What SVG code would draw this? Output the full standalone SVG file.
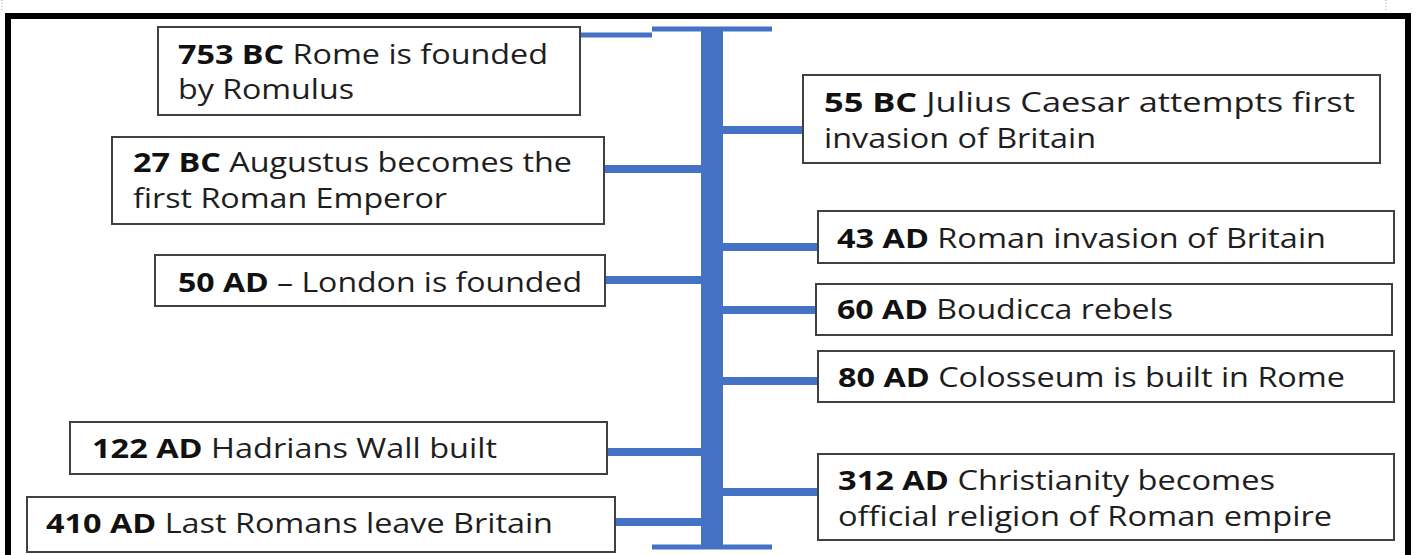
<svg xmlns="http://www.w3.org/2000/svg" width="1418" height="555" viewBox="0 0 1418 555">
<style>
.box{fill:#fff;stroke:#404040;stroke-width:2}
.t{font-family:"Open Sans","Liberation Sans",sans-serif;font-size:27px;fill:#1e1e1e}
.b{font-weight:bold;fill:#111}
.c{stroke:#4472C4;fill:none}
.guide{stroke:#7fb0e8;stroke-width:1;stroke-dasharray:1 2}
</style>
<rect x="0" y="0" width="1418" height="555" fill="#fff"/>
<line class="guide" x1="2" y1="0" x2="2" y2="10"/>
<line class="guide" x1="1386" y1="0" x2="1386" y2="12"/>
<rect x="8" y="16" width="1400" height="580" fill="none" stroke="#000" stroke-width="6"/>
<g id="connectors">
<line class="c" x1="712" y1="30" x2="712" y2="548" stroke-width="22"/>
<line class="c" x1="652" y1="29" x2="772" y2="29" stroke-width="5"/>
<line class="c" x1="652" y1="547" x2="772" y2="547" stroke-width="5"/>
<line class="c" x1="580" y1="35" x2="652" y2="35" stroke-width="5"/>
<line class="c" x1="723" y1="130" x2="803" y2="130" stroke-width="8"/>
<line class="c" x1="604" y1="169" x2="701" y2="169" stroke-width="8"/>
<line class="c" x1="723" y1="247" x2="818" y2="247" stroke-width="8"/>
<line class="c" x1="605" y1="280" x2="701" y2="280" stroke-width="8"/>
<line class="c" x1="723" y1="310" x2="816" y2="310" stroke-width="8"/>
<line class="c" x1="723" y1="381" x2="818" y2="381" stroke-width="8"/>
<line class="c" x1="607" y1="452" x2="701" y2="452" stroke-width="8"/>
<line class="c" x1="723" y1="492" x2="818" y2="492" stroke-width="8"/>
<line class="c" x1="615" y1="522" x2="701" y2="522" stroke-width="8"/>
</g>
<g id="n753bc">
<rect class="box" x="158" y="27" width="422" height="88"/>
<text class="t" x="178" y="64" textLength="370" lengthAdjust="spacingAndGlyphs"><tspan class="b">753 BC</tspan> Rome is founded</text>
<text class="t" x="178" y="99" textLength="176" lengthAdjust="spacingAndGlyphs">by Romulus</text>
</g>
<g id="n55bc">
<rect class="box" x="803" y="75" width="577" height="88"/>
<text class="t" x="824" y="112" textLength="531" lengthAdjust="spacingAndGlyphs"><tspan class="b">55 BC</tspan> Julius Caesar attempts first</text>
<text class="t" x="824" y="148" textLength="272" lengthAdjust="spacingAndGlyphs">invasion of Britain</text>
</g>
<g id="n27bc">
<rect class="box" x="112" y="137" width="492" height="87"/>
<text class="t" x="133" y="172" textLength="439" lengthAdjust="spacingAndGlyphs"><tspan class="b">27 BC</tspan> Augustus becomes the</text>
<text class="t" x="133" y="208" textLength="314" lengthAdjust="spacingAndGlyphs">first Roman Emperor</text>
</g>
<g id="n50ad">
<rect class="box" x="155" y="255" width="450" height="51"/>
<text class="t" x="178" y="292" textLength="404" lengthAdjust="spacingAndGlyphs"><tspan class="b">50 AD</tspan> – London is founded</text>
</g>
<g id="n43ad">
<rect class="box" x="818" y="211" width="576" height="52"/>
<text class="t" x="837" y="248" textLength="489" lengthAdjust="spacingAndGlyphs"><tspan class="b">43 AD</tspan> Roman invasion of Britain</text>
</g>
<g id="n60ad">
<rect class="box" x="816" y="284" width="576" height="51"/>
<text class="t" x="837" y="319" textLength="336" lengthAdjust="spacingAndGlyphs"><tspan class="b">60 AD</tspan> Boudicca rebels</text>
</g>
<g id="n80ad">
<rect class="box" x="818" y="351" width="576" height="51"/>
<text class="t" x="838" y="387" textLength="507" lengthAdjust="spacingAndGlyphs"><tspan class="b">80 AD</tspan> Colosseum is built in Rome</text>
</g>
<g id="n122ad">
<rect class="box" x="70" y="422" width="537" height="52"/>
<text class="t" x="92" y="458" textLength="405" lengthAdjust="spacingAndGlyphs"><tspan class="b">122 AD</tspan> Hadrians Wall built</text>
</g>
<g id="n410ad">
<rect class="box" x="27" y="497" width="588" height="55"/>
<text class="t" x="46" y="533" textLength="507" lengthAdjust="spacingAndGlyphs"><tspan class="b">410 AD</tspan> Last Romans leave Britain</text>
</g>
<g id="n312ad">
<rect class="box" x="818" y="454" width="576" height="86"/>
<text class="t" x="838" y="490" textLength="437" lengthAdjust="spacingAndGlyphs"><tspan class="b">312 AD</tspan> Christianity becomes</text>
<text class="t" x="838" y="526" textLength="494" lengthAdjust="spacingAndGlyphs">official religion of Roman empire</text>
</g>
</svg>
